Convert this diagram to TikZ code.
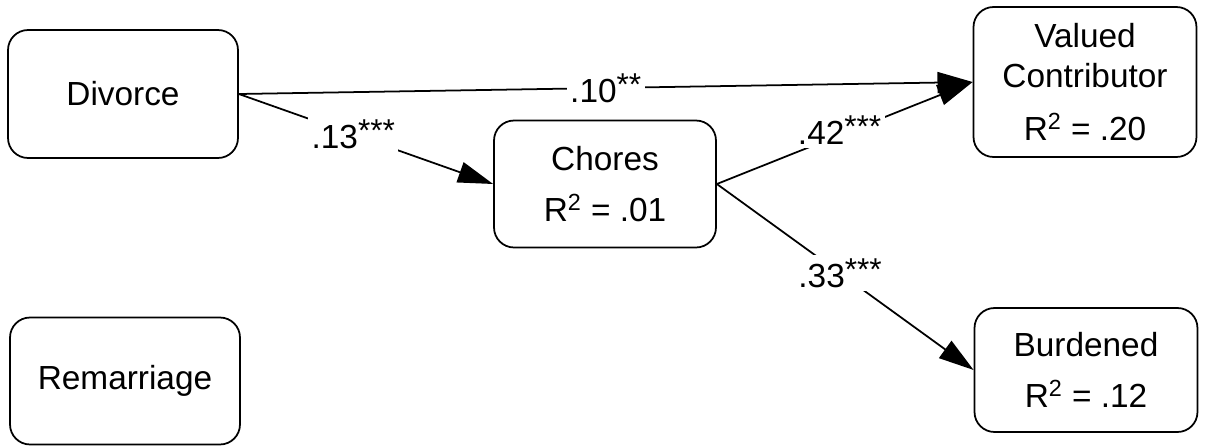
\documentclass[tikz,border=0pt]{standalone}
\usepackage{fontspec}
\setmainfont{Liberation Sans}
\usetikzlibrary{arrows.meta}
\newcommand{\sigstars}[1]{\raisebox{0.2em}{\fontsize{18}{18}\selectfont #1}}

\begin{document}
\begin{tikzpicture}[x=0.02cm,y=-0.02cm,font=\fontsize{19}{23}\selectfont,
  box/.style={draw,line width=1pt,rounded corners=0.4cm,align=center,inner sep=0pt},
  link/.style={line width=1pt,-{Triangle[length=20pt,width=12pt]}},
  coef/.style={fill=white,inner sep=2pt}]
  \useasboundingbox (0,0) rectangle (1205,447);
  \node[box,minimum width=4.6cm,minimum height=2.56cm] (divorce) at (123,94) {Divorce};
  \node[box,minimum width=4.6cm,minimum height=2.54cm] (remarriage) at (125,381) {Remarriage};
  \node[box,minimum width=4.44cm,minimum height=2.54cm] (chores) at (605,184) {Chores\\[6pt]R\textsuperscript{2} = .01};
  \node[box,minimum width=4.46cm,minimum height=3cm] (valued) at (1085,82) {Valued\\Contributor\\[7pt]R\textsuperscript{2} = .20};
  \node[box,minimum width=4.46cm,minimum height=2.48cm] (burdened) at (1086,370) {Burdened\\[6pt]R\textsuperscript{2} = .12};
  \draw[link] (divorce.east) -- node[coef] (c10) {.10\sigstars{**}} (valued.west);
  \draw[link] (divorce.east) -- node[coef,pos=0.45] (c13) {.13\sigstars{***}} (chores.west);
  \draw[link] (chores.east) -- node[coef,pos=0.48,yshift=0.1cm] (c42) {.42\sigstars{***}} (valued.west);
  \draw[link] (chores.east) -- node[coef,pos=0.48] (c33) {.33\sigstars{***}} (burdened.west);
\end{tikzpicture}
\end{document}
